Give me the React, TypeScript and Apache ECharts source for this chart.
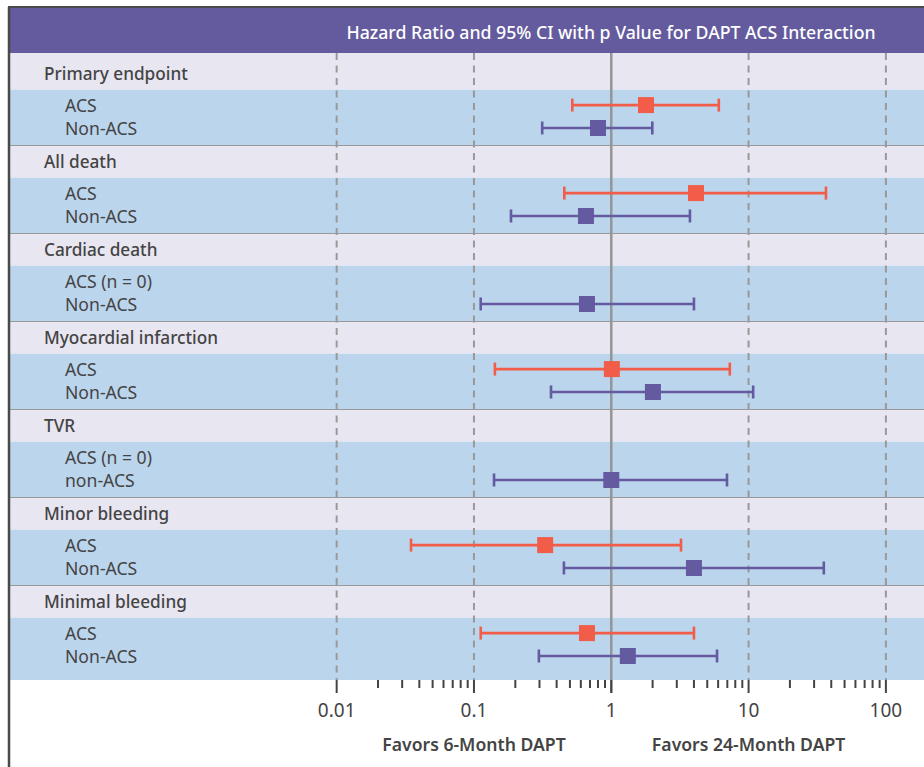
import React, { useEffect, useRef } from "react";
import * as echarts from "echarts";

// ---------- data ----------
const groupNames = [
  "Primary endpoint",
  "All death",
  "Cardiac death",
  "Myocardial infarction",
  "TVR",
  "Minor bleeding",
  "Minimal bleeding",
];
const acsLabels = ["ACS", "ACS", "ACS (n = 0)", "ACS", "ACS (n = 0)", "ACS", "ACS"];
const nonAcsLabels = ["Non-ACS", "Non-ACS", "Non-ACS", "Non-ACS", "non-ACS", "Non-ACS", "Non-ACS"];

const acsHR: (number | null)[] = [1.79, 4.14, null, 1.01, null, 0.33, 0.665];
const acsLow: (number | null)[] = [0.52, 0.455, null, 0.142, null, 0.0348, 0.112];
const acsHigh: (number | null)[] = [6.07, 36.6, null, 7.3, null, 3.22, 4.0];

const nonHR = [0.8, 0.654, 0.665, 2.01, 1.0, 4.0, 1.32];
const nonLow = [0.314, 0.186, 0.112, 0.364, 0.14, 0.452, 0.297];
const nonHigh = [1.99, 3.74, 4.0, 10.8, 6.96, 35.3, 5.89];

const majorTicks = [0.01, 0.1, 1, 10, 100];
const dashedGrid = [0.01, 0.1, 10, 100];
const refValue = 1;
const minorMultipliers = [2, 3, 4, 5, 6, 7, 8, 9];
const minorDecades = [0.01, 0.1, 1, 10];
const favorLabels = ["Favors 6-Month DAPT", "Favors 24-Month DAPT"];
const favorAnchors = [0.1, 10];
const titleText = "Hazard Ratio and 95% CI with p Value for DAPT ACS Interaction";

// ---------- layout / style ----------
const X_MIN = Math.pow(10, -4.379);
const X_MAX = Math.pow(10, 2.2775);
const GRID_LEFT = 10;
const GRID_RIGHT = 0;
const Y_MIN = -0.057;
const Y_MAX = 7.068;
const HEADER_FRAC = 0.36;
const ACS_OFF = 0.535;
const NON_OFF = 0.795;
const LABEL_OFF = 0.175;

const PURPLE_HDR = "#635B9E";
const LAVENDER = "#E8E6F1";
const BLUE = "#BBD5EC";
const SEP = "#999999";
const TEXT = "#444444";
const ACS_COLOR = "#F15D48";
const NON_COLOR = "#635AA0";
const FONT = "Noto Sans";

const minorTicks: number[] = [];
minorDecades.forEach((d) => minorMultipliers.forEach((m) => minorTicks.push(+(d * m).toPrecision(3))));

function errorData(hr: (number | null)[], lo: (number | null)[], hi: (number | null)[], off: number) {
  const out: number[][] = [];
  hr.forEach((v, i) => {
    if (v != null && lo[i] != null && hi[i] != null) out.push([lo[i] as number, hi[i] as number, i + off, v]);
  });
  return out;
}

function errorSeries(data: number[][], color: string) {
  return {
    type: "custom",
    z: 5,
    data,
    encode: { x: [0, 1], y: 2 },
    renderItem: (params: any, api: any) => {
      const p1 = api.coord([api.value(0), api.value(2)]);
      const p2 = api.coord([api.value(1), api.value(2)]);
      const h = 6.5;
      const st = { stroke: color, lineWidth: 2.6 };
      return {
        type: "group",
        children: [
          { type: "line", shape: { x1: p1[0], y1: p1[1], x2: p2[0], y2: p2[1] }, style: st },
          { type: "line", shape: { x1: p1[0], y1: p1[1] - h, x2: p1[0], y2: p1[1] + h }, style: st },
          { type: "line", shape: { x1: p2[0], y1: p2[1] - h, x2: p2[0], y2: p2[1] + h }, style: st },
        ],
      };
    },
  };
}

export default function App() {
  const ref = useRef<HTMLDivElement>(null);
  useEffect(() => {
    if (!ref.current) return;
    const chart = echarts.init(ref.current, null, { renderer: "svg" });
    const nG = groupNames.length;

    const option: any = {
      animation: false,
      backgroundColor: "#ffffff",
      textStyle: { fontFamily: FONT },
      grid: {
        left: GRID_LEFT,
        right: GRID_RIGHT,
        top: 53,
        bottom: 87,
        containLabel: false,
        outerBoundsMode: "none",
      },
      xAxis: {
        type: "log",
        logBase: 10,
        min: X_MIN,
        max: X_MAX,
        axisLine: { show: true, lineStyle: { color: "#8f8f8f", width: 2 } },
        axisTick: { show: false },
        splitLine: { show: false },
        axisLabel: {
          show: true,
          margin: 20,
          color: TEXT,
          fontSize: 19,
          fontFamily: FONT,
          formatter: (v: number) => {
            const l = Math.log10(v);
            if (Math.abs(l - Math.round(l)) > 1e-6) return "";
            const r = Math.round(l);
            if (r < -2 || r > 2) return "";
            return r >= 0 ? String(Math.pow(10, r)) : "0." + "0".repeat(-r - 1) + "1";
          },
        },
      },
      yAxis: { type: "value", inverse: true, min: Y_MIN, max: Y_MAX, show: false },
      graphic: [
        { type: "rect", shape: { x: 10, y: 8, width: 914, height: 45 }, style: { fill: PURPLE_HDR }, z: 10 },
        {
          type: "text",
          x: 611,
          y: 32,
          style: { text: titleText, fill: "#ffffff", font: `500 17.7px "${FONT}"`, align: "center", verticalAlign: "middle" },
          z: 11,
        },
        { type: "line", shape: { x1: 8, y1: 7, x2: 924, y2: 7 }, style: { stroke: "#4a4a4a", lineWidth: 2 }, z: 12 },
        { type: "line", shape: { x1: 9, y1: 7, x2: 9, y2: 767 }, style: { stroke: "#4a4a4a", lineWidth: 2.5 }, z: 12 },
      ],
      series: [
        // bands + row labels
        {
          type: "custom",
          z: 1,
          data: groupNames.map((_, i) => [refValue, i]),
          encode: { x: 0, y: 1 },
          renderItem: (params: any, api: any) => {
            const g = api.value(1);
            const cs = params.coordSys;
            const top = g === 0 ? cs.y : api.coord([refValue, g])[1];
            const mid = api.coord([refValue, g + HEADER_FRAC])[1];
            const bottom = g === nG - 1 ? cs.y + cs.height : api.coord([refValue, g + 1])[1];
            const yHead = api.coord([refValue, g + LABEL_OFF])[1];
            const yAcs = api.coord([refValue, g + ACS_OFF])[1];
            const yNon = api.coord([refValue, g + NON_OFF])[1];
            const children: any[] = [
              { type: "rect", shape: { x: cs.x, y: top, width: cs.width, height: mid - top }, style: { fill: LAVENDER } },
              { type: "rect", shape: { x: cs.x, y: mid, width: cs.width, height: bottom - mid }, style: { fill: BLUE } },
              {
                type: "text",
                x: 44,
                y: yHead,
                style: { text: groupNames[g], fill: TEXT, font: `500 17.2px "${FONT}"`, verticalAlign: "middle" },
              },
              {
                type: "text",
                x: 65,
                y: yAcs,
                style: { text: acsLabels[g], fill: TEXT, font: `17.6px "${FONT}"`, verticalAlign: "middle" },
              },
              {
                type: "text",
                x: 65,
                y: yNon,
                style: { text: nonAcsLabels[g], fill: TEXT, font: `17.6px "${FONT}"`, verticalAlign: "middle" },
              },
            ];
            if (g !== nG - 1) {
              children.push({
                type: "line",
                shape: { x1: cs.x, y1: bottom, x2: cs.x + cs.width, y2: bottom },
                style: { stroke: SEP, lineWidth: 2 },
              });
            }
            return { type: "group", children };
          },
        },
        // dashed grid lines
        {
          type: "custom",
          z: 2,
          data: dashedGrid.map((v) => [v, 0]),
          encode: { x: 0, y: 1 },
          renderItem: (params: any, api: any) => {
            const cs = params.coordSys;
            const x = api.coord([api.value(0), 0])[0];
            return {
              type: "line",
              shape: { x1: x, y1: cs.y, x2: x, y2: cs.y + cs.height },
              style: { stroke: "#999999", lineWidth: 2, lineDash: [7, 5.5] },
            };
          },
        },
        // reference line at 1
        {
          type: "custom",
          z: 2,
          data: [[refValue, 0]],
          encode: { x: 0, y: 1 },
          renderItem: (params: any, api: any) => {
            const cs = params.coordSys;
            const x = api.coord([api.value(0), 0])[0];
            return {
              type: "line",
              shape: { x1: x, y1: cs.y, x2: x, y2: cs.y + cs.height + 13 },
              style: { stroke: "#959595", lineWidth: 2.5 },
            };
          },
        },
        // ticks
        {
          type: "custom",
          z: 3,
          data: [...majorTicks.map((v) => [v, 1]), ...minorTicks.map((v) => [v, 0])],
          encode: { x: 0, y: 1 },
          renderItem: (params: any, api: any) => {
            const cs = params.coordSys;
            const x = api.coord([api.value(0), 0])[0];
            const y0 = cs.y + cs.height;
            const len = api.value(1) === 1 ? 13 : 8;
            return {
              type: "line",
              shape: { x1: x, y1: y0, x2: x, y2: y0 + len },
              style: { stroke: "#444444", lineWidth: 2 },
            };
          },
        },
        // favors labels
        {
          type: "custom",
          z: 3,
          data: favorAnchors.map((v, i) => [v, i]),
          encode: { x: 0, y: 1 },
          renderItem: (params: any, api: any) => {
            const cs = params.coordSys;
            const x = api.coord([api.value(0), 0])[0];
            return {
              type: "text",
              x,
              y: cs.y + cs.height + 64,
              style: {
                text: favorLabels[api.value(1)],
                fill: TEXT,
                font: `600 17.6px "${FONT}"`,
                align: "center",
                verticalAlign: "middle",
              },
            };
          },
        },
        errorSeries(errorData(acsHR, acsLow, acsHigh, ACS_OFF), ACS_COLOR),
        errorSeries(errorData(nonHR, nonLow, nonHigh, NON_OFF), NON_COLOR),
        {
          type: "scatter",
          z: 6,
          symbol: "rect",
          symbolSize: 16,
          itemStyle: { color: ACS_COLOR, opacity: 1 },
          data: acsHR.map((v, i) => (v == null ? null : [v, i + ACS_OFF])).filter((d) => d != null),
        },
        {
          type: "scatter",
          z: 6,
          symbol: "rect",
          symbolSize: 16,
          itemStyle: { color: NON_COLOR, opacity: 1 },
          data: nonHR.map((v, i) => [v, i + NON_OFF]),
        },
      ],
    };
    chart.setOption(option);
    return () => chart.dispose();
  }, []);

  return <div ref={ref} style={{ position: "fixed", left: 0, top: 0, width: 924, height: 767 }} />;
}
